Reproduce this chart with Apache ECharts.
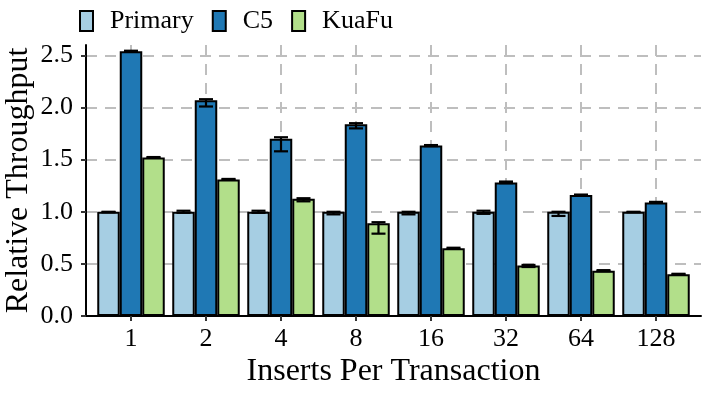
<!DOCTYPE html>
<html>
<head>
<meta charset="utf-8">
<script src="https://cdn.jsdelivr.net/npm/echarts@6/dist/echarts.min.js"></script>
<style>
  html, body { margin: 0; padding: 0; background: #fff; }
  #chart { width: 706px; height: 397px; }
</style>
</head>
<body>
<div id="chart"></div>
<script>
const cats = ['1', '2', '4', '8', '16', '32', '64', '128'];

const primary   = [1.0, 1.0, 1.0, 1.0, 1.0, 1.0, 1.0, 1.0];
const primaryLo = [0.995, 0.99, 0.99, 0.975, 0.975, 0.98, 0.96, 0.995];
const primaryHi = [1.0, 1.01, 1.01, 1.0, 1.0, 1.01, 1.0, 1.0];

const c5   = [2.54, 2.07, 1.70, 1.84, 1.635, 1.28, 1.16, 1.09];
const c5Lo = [2.535, 2.01, 1.58, 1.80, 1.63, 1.275, 1.155, 1.085];
const c5Hi = [2.545, 2.08, 1.715, 1.85, 1.64, 1.29, 1.165, 1.095];

const kuafu   = [1.52, 1.31, 1.125, 0.89, 0.65, 0.485, 0.435, 0.40];
const kuafuLo = [1.52, 1.31, 1.10, 0.79, 0.645, 0.47, 0.43, 0.40];
const kuafuHi = [1.525, 1.315, 1.13, 0.90, 0.655, 0.49, 0.44, 0.405];

const yTicks = [0, 0.5, 1.0, 1.5, 2.0, 2.5];

const font = 'Liberation Serif';
const colors = { Primary: '#a6cee3', C5: '#1f78b4', KuaFu: '#b2df8a' };
const xPos = cats.map((c, i) => i + 1);

function barData(vals) {
  return vals.map((v, i) => [xPos[i], v]);
}
function errData(lo, hi) {
  return lo.map((v, i) => [xPos[i], v, hi[i]]);
}
// error bar drawn at bar centre; shift in category units (bar = 0.3 of a category)
function errSeries(lo, hi, shift) {
  return {
    type: 'custom',
    z: 5,
    silent: true,
    encode: { x: 0, y: [1, 2] },
    data: errData(lo, hi),
    renderItem: function (params, api) {
      const x = api.value(0) + shift;
      const a = api.coord([x, api.value(1)]);
      const b = api.coord([x, api.value(2)]);
      const hw = 7;
      const st = { stroke: '#000', lineWidth: 2.2 };
      return {
        type: 'group',
        children: [
          { type: 'line', shape: { x1: a[0], y1: a[1], x2: b[0], y2: b[1] }, style: st },
          { type: 'line', shape: { x1: a[0] - hw, y1: a[1], x2: a[0] + hw, y2: a[1] }, style: st },
          { type: 'line', shape: { x1: b[0] - hw, y1: b[1], x2: b[0] + hw, y2: b[1] }, style: st }
        ]
      };
    }
  };
}
function bars(name, vals) {
  return {
    name: name,
    type: 'bar',
    barWidth: 22.5,
    barGap: '0%',
    data: barData(vals),
    itemStyle: { color: colors[name], borderColor: '#000', borderWidth: 2 }
  };
}

const gridLine = { show: true, lineStyle: { color: '#bebebe', width: 2, type: [11, 8] } };

const chart = echarts.init(document.getElementById('chart'));
chart.setOption({
  animation: false,
  textStyle: { fontFamily: font },
  legend: {
    data: ['Primary', 'C5', 'KuaFu'],
    left: 74,
    top: 3,
    itemWidth: 13,
    itemHeight: 20,
    itemGap: 18,
    icon: 'rect',
    textStyle: { fontFamily: font, fontSize: 26, color: '#000', padding: [0, 0, 0, 12] }
  },
  grid: { left: 86, right: 5, top: 45, bottom: 81, outerBoundsMode: 'none', containLabel: false },
  xAxis: {
    type: 'value',
    min: 0.4,
    max: 8.6,
    name: 'Inserts Per Transaction',
    nameLocation: 'middle',
    nameGap: 40,
    nameMoveOverlap: false,
    nameTextStyle: { fontFamily: font, fontSize: 32, color: '#000' },
    axisLine: { lineStyle: { color: '#000', width: 2 } },
    axisTick: { show: true, length: 5, customValues: xPos, lineStyle: { color: '#333', width: 2 } },
    axisLabel: {
      customValues: xPos,
      margin: 10,
      fontFamily: font,
      fontSize: 26,
      color: '#000',
      formatter: v => cats[Math.round(v) - 1]
    },
    splitLine: gridLine
  },
  yAxis: {
    type: 'value',
    min: 0,
    max: 2.6,
    name: 'Relative Throughput',
    nameLocation: 'middle',
    nameGap: 51,
    nameMoveOverlap: false,
    nameTextStyle: { fontFamily: font, fontSize: 32, color: '#000' },
    axisLine: { show: true, lineStyle: { color: '#000', width: 2 } },
    axisTick: { show: true, length: 5, customValues: yTicks, lineStyle: { color: '#333', width: 2 } },
    axisLabel: {
      customValues: yTicks,
      margin: 13,
      fontFamily: font,
      fontSize: 26,
      color: '#000',
      formatter: v => v.toFixed(1)
    },
    splitLine: gridLine
  },
  series: [
    bars('Primary', primary),
    bars('C5', c5),
    bars('KuaFu', kuafu),
    errSeries(primaryLo, primaryHi, -0.3),
    errSeries(c5Lo, c5Hi, 0),
    errSeries(kuafuLo, kuafuHi, 0.3)
  ]
});
</script>
</body>
</html>
